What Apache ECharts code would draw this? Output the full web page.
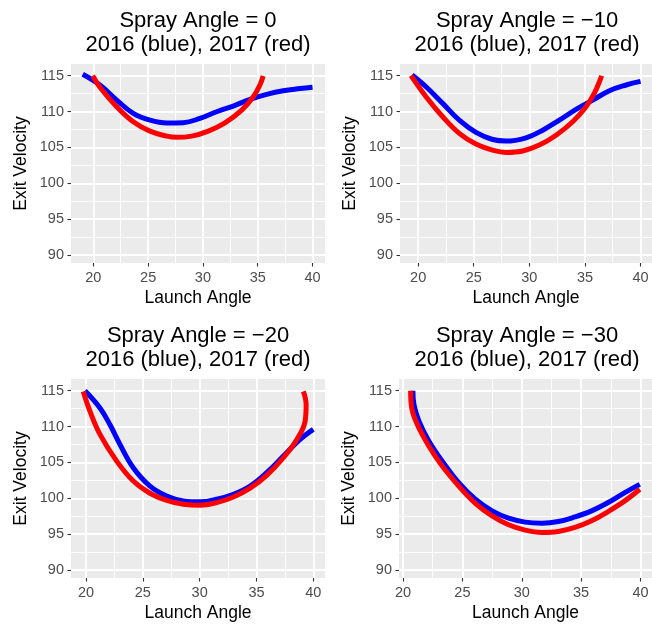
<!DOCTYPE html>
<html>
<head>
<meta charset="utf-8">
<script src="https://cdn.jsdelivr.net/npm/echarts@6/dist/echarts.min.js"></script>
<style>
  html, body { margin: 0; padding: 0; background: #fff; }
  #chart { width: 652px; height: 627px; }
</style>
</head>
<body>
<div id="chart"></div>
<script>
// contour curves: [launch angle, exit velocity]
const blue0 = [[19.03,115.2],[20.6,113.7],[22.13,111.6],[23.64,109.75],[25.17,108.8],[26.7,108.4],[28.2,108.45],[29.73,109.05],[31.25,109.97],[32.77,110.76],[34.29,111.7],[35.82,112.4],[37.33,112.9],[38.85,113.2],[40.0,113.4]];
const red0 = [[19.94,115.0],[20.6,113.4],[22.13,110.67],[23.64,108.57],[25.17,107.27],[26.7,106.57],[27.6,106.4],[28.97,106.57],[30.49,107.27],[32.01,108.43],[33.54,110.2],[34.6,112.06],[35.2,113.7],[35.5,114.95]];

const blue10 = [[19.45,115.1],[20.71,113.46],[22.21,111.14],[23.7,108.8],[25.2,107.09],[26.7,106.1],[27.9,105.88],[29.7,106.34],[31.2,107.4],[32.7,108.8],[34.2,110.3],[35.7,111.6],[37.2,112.9],[38.7,113.7],[40.0,114.2]];
const red10 = [[19.36,115.0],[20.71,112.06],[22.21,109.27],[23.7,106.95],[25.2,105.46],[26.7,104.62],[27.9,104.3],[29.4,104.5],[30.9,105.32],[32.4,106.7],[33.9,108.57],[35.1,110.67],[35.84,112.54],[36.3,114.16],[36.5,115.0]];

const blue20 = [[19.91,115.0],[21.23,112.6],[22.1,110.28],[22.99,107.5],[24.16,104.26],[25.63,101.7],[27.1,100.32],[28.57,99.63],[30.04,99.5],[31.5,99.86],[32.97,100.56],[34.44,101.7],[35.9,103.57],[37.37,105.88],[38.84,108.2],[40.0,109.6]];
const red20 = [[19.76,114.9],[20.35,112.13],[21.23,108.9],[22.7,105.18],[24.16,102.4],[25.63,100.7],[27.1,99.72],[28.57,99.17],[30.04,99.03],[31.5,99.4],[32.97,100.18],[34.44,101.4],[35.9,103.2],[37.37,105.65],[38.55,108.2],[39.28,110.74],[39.37,113.06],[39.13,114.9]];

const blue30 = [[20.83,115.0],[20.92,113.06],[21.34,110.74],[22.18,107.96],[23.3,105.18],[24.69,102.18],[26.09,99.86],[27.5,98.24],[28.89,97.22],[30.29,96.67],[31.69,96.53],[33.08,96.76],[34.48,97.4],[35.88,98.24],[37.28,99.4],[38.68,100.79],[39.94,101.94]];
const red30 = [[20.64,115.0],[20.73,112.6],[21.2,110.28],[22.18,107.26],[23.3,104.49],[24.69,101.71],[26.09,99.3],[27.5,97.54],[28.89,96.3],[30.29,95.56],[31.69,95.24],[33.08,95.37],[34.48,95.93],[35.88,96.85],[37.28,98.15],[38.68,99.63],[39.94,101.25]];

const sprayAngles = ['0', '\u221210', '\u221220', '\u221230'];
const subTitle = '2016 (blue), 2017 (red)';
const xTicks = [20, 25, 30, 35, 40];
const xMinor = [22.5, 27.5, 32.5, 37.5];
const yTicks = [90, 95, 100, 105, 110, 115];
const yMinor = [92.5, 97.5, 102.5, 107.5, 112.5];

const panelData = [[blue0, red0], [blue10, red10], [blue20, red20], [blue30, red30]];

// layout of the four panels (pixel boxes and expanded axis ranges)
const panels = [
  { left: 71,  top: 64,  width: 254, height: 199, xmin: 17.96, xmax: 41.14 },
  { left: 400, top: 64,  width: 252, height: 199, xmin: 18.37, xmax: 41.03 },
  { left: 71,  top: 379, width: 254, height: 199, xmin: 18.68, xmax: 41.03 },
  { left: 399, top: 379, width: 254, height: 199, xmin: 19.66, xmax: 40.97 }
];
const yMin = 88.88, yMax = 116.63;

const font = "'Liberation Sans', Arial, Helvetica, sans-serif";
const chart = echarts.init(document.getElementById('chart'), null, { renderer: 'canvas' });

const grid = [], xAxis = [], yAxis = [], title = [], series = [];

panels.forEach(function (p, i) {
  grid.push({
    left: p.left, top: p.top, width: p.width, height: p.height,
    show: true, backgroundColor: '#EBEBEB', borderWidth: 0, containLabel: false
  });
  title.push({
    text: 'Spray Angle = ' + sprayAngles[i] + '\n' + subTitle,
    left: p.left + p.width / 2 + (i % 2 === 1 ? 1 : 0),
    top: p.top - 55,
    textAlign: 'center',
    padding: 0,
    textStyle: { fontFamily: font, fontSize: 22, fontWeight: 'normal', color: '#000', lineHeight: 24 }
  });
  // minor grid axes
  xAxis.push({
    type: 'value', gridIndex: i, min: p.xmin, max: p.xmax, position: 'top',
    axisLine: { show: false }, axisLabel: { show: false },
    axisTick: { show: false, customValues: xMinor },
    splitLine: { show: true, lineStyle: { color: '#FFFFFF', width: 0.9 } }
  });
  yAxis.push({
    type: 'value', gridIndex: i, min: yMin, max: yMax, position: 'right',
    axisLine: { show: false }, axisLabel: { show: false },
    axisTick: { show: false, customValues: yMinor },
    splitLine: { show: true, lineStyle: { color: '#FFFFFF', width: 0.9 } }
  });
  // major axes
  xAxis.push({
    type: 'value', gridIndex: i, min: p.xmin, max: p.xmax, position: 'bottom',
    name: 'Launch Angle', nameLocation: 'middle', nameGap: 26,
    nameTextStyle: { fontFamily: font, fontSize: 17.5, color: '#000' },
    axisLine: { show: false },
    axisTick: { show: true, length: 3.5, customValues: xTicks, lineStyle: { color: '#333333', width: 1.1 } },
    axisLabel: { customValues: xTicks, margin: 7, fontFamily: font, fontSize: 14.5, color: '#4D4D4D' },
    splitLine: { show: true, lineStyle: { color: '#FFFFFF', width: 1.8 } }
  });
  yAxis.push({
    type: 'value', gridIndex: i, min: yMin, max: yMax, position: 'left',
    name: 'Exit Velocity', nameLocation: 'middle', nameGap: 41,
    nameTextStyle: { fontFamily: font, fontSize: 17.5, color: '#000' },
    axisLine: { show: false },
    axisTick: { show: true, length: 3.5, customValues: yTicks, lineStyle: { color: '#333333', width: 1.1 } },
    axisLabel: { customValues: yTicks, margin: 7, fontFamily: font, fontSize: 14.5, color: '#4D4D4D' },
    splitLine: { show: true, lineStyle: { color: '#FFFFFF', width: 1.8 } }
  });

  const cols = ['#0000FF', '#FF0000'];
  panelData[i].forEach(function (d, k) {
    series.push({
      type: 'line', xAxisIndex: i * 2 + 1, yAxisIndex: i * 2 + 1,
      data: d, showSymbol: false, smooth: 0.4, z: 3 + k,
      lineStyle: { color: cols[k], width: 5, cap: 'butt' }
    });
  });
});

chart.setOption({
  animation: false,
  backgroundColor: '#FFFFFF',
  title: title,
  grid: grid,
  xAxis: xAxis,
  yAxis: yAxis,
  series: series
});
</script>
</body>
</html>
